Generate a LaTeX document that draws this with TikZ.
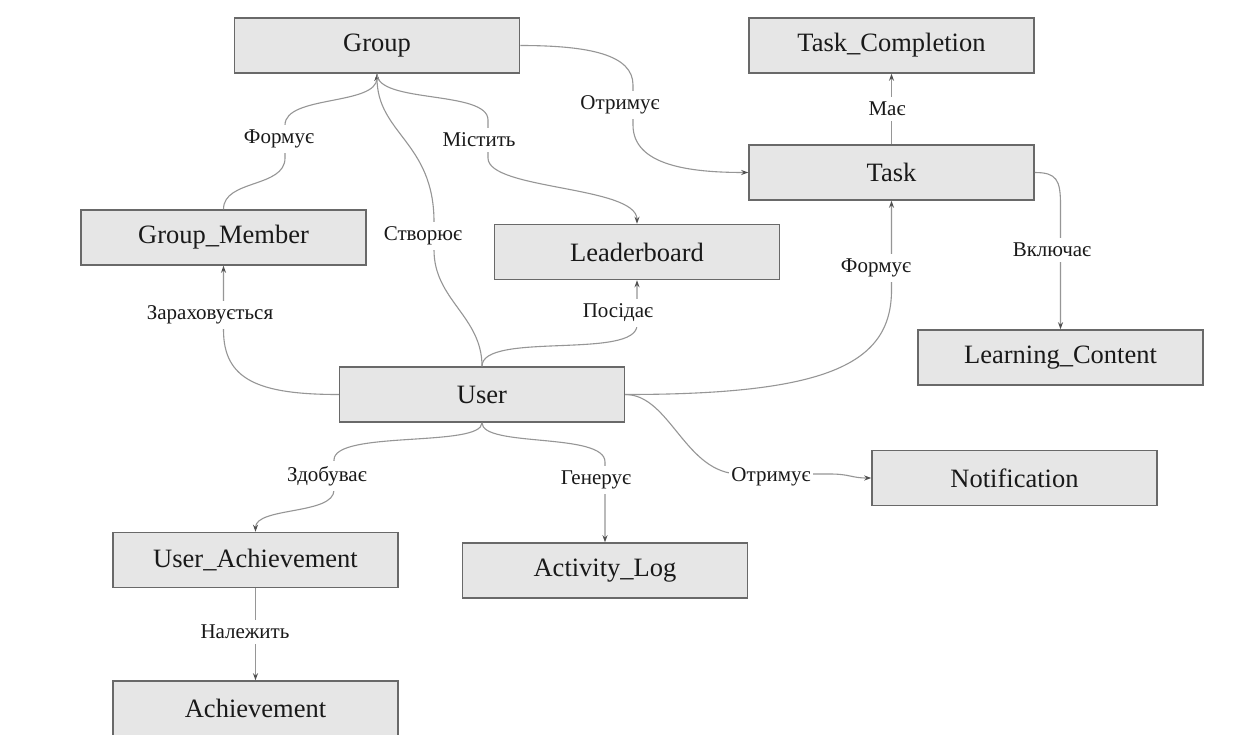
\documentclass[tikz,border=0pt]{standalone}
\usepackage{fontspec}
\setmainfont{Liberation Serif}
\usetikzlibrary{arrows.meta}

\definecolor{boxfill}{RGB}{230,230,230}
\definecolor{boxline}{RGB}{105,105,105}
\definecolor{relline}{RGB}{150,150,150}
\definecolor{tipcol}{RGB}{80,80,80}

\tikzset{
    entity/.style={draw=boxline, fill=boxfill, line width=1.5pt, minimum width=285pt, minimum height=55pt, inner sep=0pt, text=black!90, font=\fontsize{26.5}{30}\selectfont},
    rel/.style={draw=relline, line width=1.1pt, -{Stealth[length=7pt, width=5pt, color=tipcol]}},
    rellabel/.style={fill=white, inner xsep=2pt, inner ysep=5pt, text=black!90, font=\fontsize{21}{24}\selectfont},
}

\begin{document}
\begin{tikzpicture}[x=1pt, y=-1pt]
        \useasboundingbox[fill=white](0, 0) rectangle (1246, 734);

        \node[entity] (group) at(377, 45.5){Group};
        \node[entity] (taskdone) at(891.5, 45.5){Task\_Completion};
        \node[entity] (task) at(891.5, 172.5){Task};
        \node[entity] (member) at(223.5, 237.5){Group\_Member};
        \node[entity] (board) at(637, 252){Leaderboard};
        \node[entity] (content) at(1060.5, 357.5){Learning\_Content};
        \node[entity] (user) at(482, 394.5){User};
        \node[entity] (notice) at(1014.5, 478){Notification};
        \node[entity] (userach) at(255.5, 560){User\_Achievement};
        \node[entity] (actlog) at(605, 570.5){Activity\_Log};
        \node[entity] (achieve) at(255.5, 708.5){Achievement};

        % group side
        \draw[rel](member.north) .. controls +(0, -30) and +(0, 30) .. (285, 158)
            -- (285, 125) .. controls +(0, -30) and +(0, 32) .. (group.south)
            node[rellabel] (lform) at(279, 139){Формує};
        \draw[rel](user.north) .. controls +(0, -50) and +(0, 50) .. (434, 250)
            -- (434, 222) .. controls +(0, -80) and +(0, 60) .. (group.south)
            node[rellabel] (lcreate) at(423, 236){Створює};
        \draw[rel](group.south) .. controls +(0, 30) and +(0, -30) .. (488, 120)
            -- (488, 158) .. controls +(0, 32) and +(0, -38) .. (board.north)
            node[rellabel] (lholds) at(479, 140){Містить};
        \draw[rel](group.east) .. controls +(70, 0) and +(0, -30) .. (633, 85)
            -- (633, 125) .. controls +(0, 40) and +(-60, 0) .. (task.west)
            node[rellabel] (lgets) at(620, 105){Отримує};

        % task side
        \draw[rel](task.north) to (taskdone.south)
            node[rellabel] (lhas) at(887, 109){Має};
        \draw[rel](task.east) .. controls +(22, 0) and +(0, -25) .. (1060.5, 205)
            -- (content.north)
            node[rellabel] (lincl) at(1052, 250){Включає};
        \draw[rel](user.east) .. controls +(200, 0) and +(0, 75) .. (891.5, 290)
            -- (task.south)
            node[rellabel] (lform2) at(876, 268){Формує};

        % user
        \draw[rel](user.north) .. controls +(0, -35) and +(0, 35) .. (637, 325)
            -- (board.south)
            node[rellabel] (lowns) at(618, 313){Посідає};
        \draw[rel](user.west) .. controls +(-80, 0) and +(0, 50) .. (223.5, 330)
            -- (member.south)
            node[rellabel] (lenrol) at(210, 315){Зараховується};
        \draw[rel](user.south) .. controls +(0, 25) and +(0, -30) .. (334, 460)
            -- (334, 490) .. controls +(0, 25) and +(0, -25) .. (userach.north)
            node[rellabel] (learn) at(327, 476){Здобуває};
        \draw[rel](user.south) .. controls +(0, 25) and +(0, -30) .. (605, 462)
            -- (actlog.north)
            node[rellabel] (lgen) at(596, 480){Генерує};
        \draw[rel](user.east) .. controls +(45, 0) and +(-55, 0) .. (740, 474)
            -- (830, 474) .. controls +(20, 0) and +(-20, 0) .. (notice.west)
            node[rellabel] (lgets2) at(771, 477){Отримує};

        \draw[rel](userach.south) to (achieve.north)
            node[rellabel] (lbelong) at(245, 632){Належить};

    \end{tikzpicture}
\end{document}
